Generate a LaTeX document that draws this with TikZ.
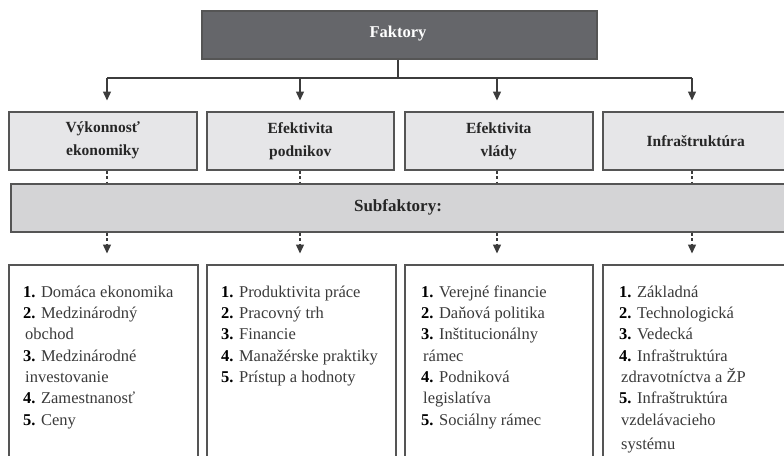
\documentclass[tikz,border=0pt]{standalone}
\usepackage{fontspec}
\setmainfont{Liberation Serif}
\usetikzlibrary{arrows.meta}

\definecolor{darkbox}{HTML}{65666A}
\definecolor{catfill}{HTML}{E6E6E8}
\definecolor{subfill}{HTML}{D4D4D6}
\definecolor{edge}{HTML}{555555}
\definecolor{wire}{HTML}{3C3C3C}
\definecolor{ink}{HTML}{3A3A3A}

\newcommand{\itemno}[1]{\textcolor{black}{\textbf{#1}}}

\begin{document}
\begin{tikzpicture}[x=1pt,y=-1pt,
  frame/.style={draw=edge, line width=1.5pt, inner sep=0pt, anchor=north west},
  headbox/.style={frame, fill=darkbox, minimum width=395pt, minimum height=48pt},
  catbox/.style={frame, fill=catfill, minimum height=58pt},
  catlabel/.style={align=center, text=black!85, font=\fontsize{15.5}{23}\selectfont\bfseries},
  subbox/.style={frame, fill=subfill, minimum width=778pt, minimum height=48pt},
  listbox/.style={frame, fill=white, minimum height=220pt},
  listtext/.style={anchor=north west, inner sep=0pt, align=left, text=ink,
    font=\fontsize{16.5}{21.3}\selectfont},
  link/.style={draw=wire, line width=1.4pt},
  dlink/.style={link, dash pattern=on 3pt off 2.5pt},
  tip/.style={-{Triangle[width=8pt,length=9pt]}, shorten >=10.5pt}
]
\useasboundingbox (0,0) rectangle (784,455);
\clip (0,0) rectangle (784,455);

% top level
\node[headbox] (top) at (201,10) {};
\node[text=white, font=\fontsize{16.5}{20}\selectfont\bfseries] (toplabel) at (398,34) {Faktory};

% factor categories
\node[catbox, minimum width=188pt] (cat1) at (8,111) {};
\node[catbox, minimum width=187pt] (cat2) at (206,111) {};
\node[catbox, minimum width=188pt] (cat3) at (404,111) {};
\node[catbox, minimum width=186pt] (cat4) at (602,111) {};
\node[catlabel] (cat1l) at (cat1.center) {Výkonnosť\\ekonomiky};
\node[catlabel] (cat2l) at (cat2.center) {Efektivita\\podnikov};
\node[catlabel] (cat3l) at (cat3.center) {Efektivita\\vlády};
\node[catlabel] (cat4l) at (cat4.center) {Infraštruktúra};

% subfactor band
\node[subbox] (sub) at (10,183) {};
\node[text=black!85, font=\fontsize{17}{20}\selectfont\bfseries] (subl) at (398,207) {Subfaktory:};

% subfactor lists
\node[listbox, minimum width=189pt] (list1) at (8,264) {};
\node[listbox, minimum width=189pt] (list2) at (206,264) {};
\node[listbox, minimum width=188pt] (list3) at (404,264) {};
\node[listbox, minimum width=186pt] (list4) at (602,264) {};

\node[listtext] (list1t) at (23,282.1) {\strut\itemno{1.} Domáca ekonomika\\
  \itemno{2.} Medzinárodný\\
  \hspace{2pt}obchod\\
  \itemno{3.} Medzinárodné\\
  \hspace{2pt}investovanie\\
  \itemno{4.} Zamestnanosť\\
  \itemno{5.} Ceny};
\node[listtext] (list2t) at (221,282.1) {\strut\itemno{1.} Produktivita práce\\
  \itemno{2.} Pracovný trh\\
  \itemno{3.} Financie\\
  \itemno{4.} Manažérske praktiky\\
  \itemno{5.} Prístup a hodnoty};
\node[listtext] (list3t) at (421,282.1) {\strut\itemno{1.} Verejné financie\\
  \itemno{2.} Daňová politika\\
  \itemno{3.} Inštitucionálny\\
  \hspace{2pt}rámec\\
  \itemno{4.} Podniková\\
  \hspace{2pt}legislatíva\\
  \itemno{5.} Sociálny rámec};
\node[listtext] (list4t) at (619,282.1) {\strut\itemno{1.} Základná\\
  \itemno{2.} Technologická\\
  \itemno{3.} Vedecká\\
  \itemno{4.} Infraštruktúra\\
  \hspace{2pt}zdravotníctva a ŽP\\
  \itemno{5.} Infraštruktúra\\
  \hspace{2pt}vzdelávacieho\\[3pt]
  \hspace{2pt}systému};

% column positions of the connectors
\coordinate (hub) at (398,78);
\coordinate (c1) at (107,78);
\coordinate (c2) at (300,78);
\coordinate (c3) at (497,78);
\coordinate (c4) at (692,78);

% distribution from the top box
\draw[link] (top.south -| hub) -- (hub);
\draw[link] (c1) -- (c4);
\foreach \k in {1,2,3,4}{
  \draw[link, tip] (c\k) -- (c\k |- cat\k.north);
  \draw[dlink] (c\k |- cat\k.south) -- (c\k |- sub.north);
  \draw[dlink, tip] (c\k |- sub.south) -- (c\k |- list\k.north);
}
\end{tikzpicture}
\end{document}
